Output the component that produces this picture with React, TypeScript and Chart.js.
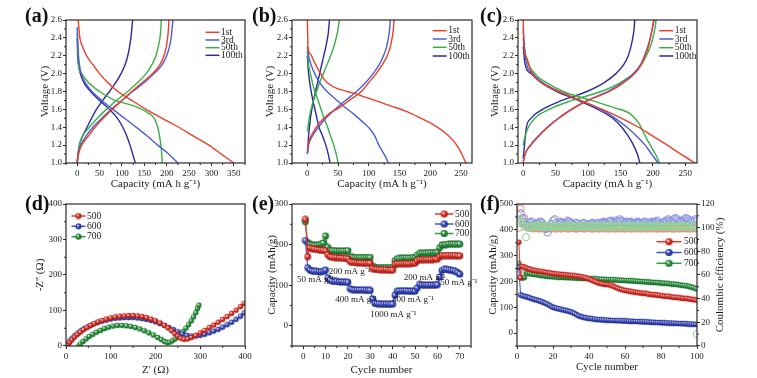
import React, { useEffect, useRef } from "react";
import { Chart, registerables } from "chart.js";
Chart.register(...registerables);

const FONT = "'Liberation Serif', 'Times New Roman', Times, serif";
const INK = "#1b1b1b";
const FRAME = "#2a2a2a";

type Pt = [number, number];

// ---------------- (a)(b)(c) voltage profiles ----------------
const cycleLabels = ["1st", "3rd", "50th", "100th"];
const cycleColors = ["#e8402b", "#4d5fcf", "#3bae47", "#2c2c92"];
const voltTicks = [1.0, 1.2, 1.4, 1.6, 1.8, 2.0, 2.2, 2.4, 2.6];
const capTicksA = [0, 50, 100, 150, 200, 250, 300, 350];
const capTicksBC = [0, 50, 100, 150, 200, 250];

const aDis1st: Pt[] = [[2, 2.6], [4, 2.5], [6, 2.4], [12, 2.3], [21, 2.2], [35, 2.1], [50, 2.0], [68, 1.9], [91, 1.8], [122, 1.7], [154, 1.6], [190, 1.5], [227, 1.4], [260, 1.3], [294, 1.2], [322, 1.1], [350, 1.0]];
const aChg1st: Pt[] = [[0, 1.0], [3, 1.1], [10, 1.2], [25, 1.3], [40, 1.4], [58, 1.5], [78, 1.6], [100, 1.7], [122, 1.8], [145, 1.9], [168, 2.0], [185, 2.1], [194, 2.2], [199, 2.3], [202, 2.4], [204, 2.5], [205, 2.6]];
const aDis3rd: Pt[] = [[0, 2.52], [1, 2.4], [2, 2.3], [3, 2.2], [5, 2.1], [9, 2.0], [18, 1.9], [33, 1.8], [55, 1.7], [80, 1.6], [106, 1.5], [132, 1.4], [157, 1.3], [180, 1.2], [200, 1.12], [213, 1.06], [225, 1.0]];
const aChg3rd: Pt[] = [[0, 1.0], [2, 1.1], [8, 1.2], [20, 1.3], [35, 1.4], [55, 1.5], [76, 1.6], [100, 1.7], [124, 1.8], [150, 1.9], [172, 2.0], [190, 2.1], [200, 2.2], [206, 2.3], [210, 2.4], [212, 2.5], [214, 2.6]];
const aDis50th: Pt[] = [[0, 2.45], [1, 2.3], [3, 2.1], [10, 2.0], [25, 1.9], [50, 1.8], [85, 1.7], [120, 1.65], [145, 1.6], [162, 1.55], [172, 1.5], [180, 1.4], [184, 1.3], [187, 1.2], [189, 1.1], [190, 1.0]];
const aChg50th: Pt[] = [[0, 1.0], [2, 1.1], [5, 1.2], [12, 1.3], [27, 1.4], [45, 1.5], [65, 1.6], [88, 1.7], [113, 1.8], [135, 1.9], [154, 2.0], [167, 2.1], [176, 2.2], [181, 2.3], [185, 2.4], [187, 2.5], [188, 2.6]];
const aDis100th: Pt[] = [[0, 2.4], [1, 2.2], [3, 2.1], [7, 2.0], [15, 1.9], [30, 1.8], [50, 1.7], [72, 1.6], [90, 1.5], [102, 1.4], [111, 1.3], [118, 1.2], [124, 1.1], [130, 1.0]];
const aChg100th: Pt[] = [[0, 1.0], [2, 1.1], [5, 1.2], [12, 1.3], [22, 1.4], [32, 1.5], [43, 1.6], [57, 1.7], [72, 1.8], [86, 1.9], [98, 2.0], [107, 2.1], [113, 2.2], [117, 2.3], [120, 2.4], [122, 2.5], [124, 2.6]];

const bDis1st: Pt[] = [[0, 2.6], [0.5, 2.45], [1, 2.3], [5, 2.22], [12, 2.12], [20, 2.02], [28, 1.93], [38, 1.87], [50, 1.83], [65, 1.8], [85, 1.76], [110, 1.7], [135, 1.64], [160, 1.58], [185, 1.5], [205, 1.43], [222, 1.35], [235, 1.27], [245, 1.18], [252, 1.09], [258, 1.0]];
const bChg1st: Pt[] = [[0, 1.15], [3, 1.25], [10, 1.35], [20, 1.45], [35, 1.55], [52, 1.62], [68, 1.7], [88, 1.8], [100, 1.9], [112, 2.0], [122, 2.1], [130, 2.2], [135, 2.3], [138, 2.4], [140, 2.5], [141, 2.6]];
const bDis3rd: Pt[] = [[0, 2.3], [2, 2.2], [6, 2.1], [12, 2.0], [20, 1.9], [32, 1.8], [45, 1.72], [60, 1.63], [75, 1.55], [90, 1.46], [102, 1.38], [110, 1.3], [115, 1.22], [122, 1.13], [128, 1.06], [132, 1.0]];
const bChg3rd: Pt[] = [[0, 1.1], [2, 1.2], [8, 1.3], [18, 1.4], [30, 1.5], [45, 1.6], [62, 1.7], [80, 1.8], [95, 1.9], [107, 2.0], [117, 2.1], [124, 2.2], [129, 2.3], [132, 2.4], [134, 2.5], [135, 2.6]];
const bDis50th: Pt[] = [[0, 2.25], [2, 2.1], [5, 2.0], [10, 1.85], [15, 1.75], [20, 1.65], [27, 1.5], [33, 1.4], [38, 1.3], [43, 1.2], [47, 1.1], [50, 1.0]];
const bChg50th: Pt[] = [[0, 1.35], [3, 1.5], [6, 1.6], [10, 1.7], [15, 1.8], [20, 1.9], [26, 2.0], [32, 2.1], [38, 2.2], [43, 2.3], [47, 2.4], [50, 2.5], [52, 2.6]];
const bDis100th: Pt[] = [[0, 2.2], [2, 2.0], [5, 1.85], [9, 1.7], [14, 1.55], [19, 1.4], [25, 1.3], [30, 1.2], [34, 1.1], [37, 1.0]];
const bChg100th: Pt[] = [[0, 1.1], [2, 1.3], [5, 1.5], [10, 1.7], [15, 1.85], [20, 2.0], [25, 2.15], [30, 2.3], [34, 2.45], [36, 2.6]];

const cDis1st: Pt[] = [[0, 2.6], [1, 2.3], [4, 2.2], [14, 2.0], [28, 1.9], [55, 1.8], [88, 1.7], [122, 1.6], [152, 1.5], [178, 1.4], [200, 1.3], [222, 1.2], [243, 1.1], [265, 1.0]];
const cChg1st: Pt[] = [[0, 1.0], [3, 1.1], [12, 1.2], [24, 1.3], [38, 1.4], [55, 1.5], [75, 1.6], [100, 1.7], [133, 1.8], [155, 1.9], [172, 2.0], [182, 2.1], [188, 2.2], [193, 2.3], [196, 2.4], [199, 2.5], [201, 2.6]];
const cDis3rd: Pt[] = [[0, 2.5], [3, 2.2], [15, 2.0], [30, 1.9], [55, 1.8], [88, 1.7], [120, 1.6], [142, 1.5], [160, 1.4], [175, 1.3], [188, 1.2], [198, 1.1], [208, 1.0]];
const cChg3rd: Pt[] = [[0, 1.02], [3, 1.1], [11, 1.2], [23, 1.3], [37, 1.4], [54, 1.5], [74, 1.6], [99, 1.7], [130, 1.8], [153, 1.9], [170, 2.0], [181, 2.1], [187, 2.2], [192, 2.3], [196, 2.4], [199, 2.5], [202, 2.6]];
const cDis50th: Pt[] = [[0, 2.4], [4, 2.2], [18, 2.0], [36, 1.9], [62, 1.8], [105, 1.7], [140, 1.62], [165, 1.55], [178, 1.45], [185, 1.35], [192, 1.25], [200, 1.15], [206, 1.07], [210, 1.0]];
const cChg50th: Pt[] = [[0, 1.2], [3, 1.3], [8, 1.4], [18, 1.5], [40, 1.6], [75, 1.7], [120, 1.8], [150, 1.9], [170, 2.0], [182, 2.1], [190, 2.2], [196, 2.3], [200, 2.4], [203, 2.5], [205, 2.6]];
const cDis100th: Pt[] = [[0, 2.3], [3, 2.1], [12, 2.0], [28, 1.9], [52, 1.8], [85, 1.7], [115, 1.6], [138, 1.5], [152, 1.4], [162, 1.3], [170, 1.2], [176, 1.1], [180, 1.0]];
const cChg100th: Pt[] = [[0, 1.05], [2, 1.2], [5, 1.4], [12, 1.5], [30, 1.6], [60, 1.7], [98, 1.8], [125, 1.9], [143, 2.0], [155, 2.1], [162, 2.2], [166, 2.3], [169, 2.4], [171, 2.5], [172, 2.6]];

// ---------------- (d) Nyquist ----------------
const sampleLabels = ["500", "600", "700"];
const zTicks = [0, 100, 200, 300, 400];
const nyq500: Pt[] = [[4, 3], [8, 10], [13, 17], [19, 25], [25, 32], [32, 39], [39, 46], [47, 52], [55, 58], [63, 63], [72, 68], [81, 72], [90, 76], [100, 79], [110, 82], [120, 84], [130, 85], [140, 86], [150, 86], [160, 85], [170, 83], [180, 80], [190, 76], [200, 71], [210, 65], [220, 58], [228, 51], [236, 43], [243, 35], [250, 28], [257, 22], [264, 19], [272, 20], [280, 24], [290, 30], [300, 37], [310, 44], [320, 52], [330, 59], [340, 67], [350, 75], [360, 83], [370, 92], [380, 101], [390, 111], [398, 120]];
const nyq600: Pt[] = [[2, 2], [5, 8], [9, 15], [14, 22], [20, 30], [27, 37], [34, 44], [42, 50], [51, 56], [60, 61], [70, 66], [80, 70], [90, 73], [100, 76], [110, 78], [120, 79], [130, 80], [140, 80], [150, 80], [160, 79], [170, 77], [180, 75], [190, 72], [200, 68], [210, 63], [220, 58], [230, 52], [240, 46], [250, 40], [260, 34], [270, 30], [280, 28], [290, 28], [300, 30], [310, 33], [320, 37], [330, 42], [340, 47], [350, 53], [360, 60], [370, 67], [380, 75], [390, 84], [398, 93]];
const nyq700: Pt[] = [[28, 0], [32, 6], [38, 13], [45, 20], [52, 27], [60, 33], [68, 39], [77, 44], [86, 49], [95, 53], [105, 56], [115, 58], [125, 58], [135, 57], [145, 55], [155, 52], [165, 48], [175, 43], [185, 37], [195, 31], [205, 24], [213, 18], [220, 13], [226, 10], [232, 11], [238, 15], [244, 20], [250, 26], [256, 33], [262, 41], [268, 50], [274, 60], [280, 71], [285, 82], [290, 94], [294, 106], [297, 115]];

// ---------------- (e) rate capability ----------------
const rateCycleTicks = [0, 10, 20, 30, 40, 50, 60, 70];
const rateCapTicks = [0, 100, 200, 300];
const rate500 = [262, 170, 192, 190, 189, 188, 187, 186, 186, 185, 175, 170, 169, 168, 168, 167, 167, 166, 166, 165, 158, 156, 156, 155, 155, 155, 154, 154, 154, 154, 141, 139, 139, 138, 138, 138, 138, 137, 137, 137, 151, 153, 153, 153, 153, 153, 153, 153, 154, 154, 160, 163, 163, 163, 163, 163, 163, 163, 164, 164, 170, 173, 173, 173, 173, 173, 173, 173, 172, 172];
const rate600 = [210, 143, 137, 135, 134, 134, 133, 133, 134, 137, 118, 112, 110, 109, 109, 108, 108, 108, 107, 107, 91, 89, 88, 88, 88, 88, 88, 87, 87, 87, 66, 55, 54, 54, 53, 53, 53, 53, 53, 53, 75, 85, 86, 86, 86, 86, 85, 85, 85, 85, 93, 102, 100, 100, 100, 100, 100, 100, 100, 101, 120, 136, 139, 139, 138, 137, 136, 134, 131, 127];
const rate700 = [256, 205, 201, 199, 198, 198, 199, 201, 204, 221, 193, 186, 185, 185, 184, 184, 184, 184, 184, 185, 170, 169, 168, 168, 168, 168, 168, 168, 168, 168, 146, 144, 143, 143, 143, 143, 143, 143, 143, 143, 160, 165, 166, 166, 167, 167, 167, 167, 168, 168, 174, 178, 179, 179, 179, 180, 180, 180, 180, 181, 192, 199, 200, 200, 201, 201, 201, 201, 201, 201];
const rateNotes = [
  { text: "50 mA g⁻¹", cycle: -2.8, cap: 113 },
  { text: "200 mA g⁻¹", cycle: 11.4, cap: 133 },
  { text: "400 mA g⁻¹", cycle: 14.3, cap: 65 },
  { text: "1000 mA g⁻¹", cycle: 30, cap: 27 },
  { text: "400 mA g⁻¹", cycle: 39.7, cap: 65 },
  { text: "200 mA g⁻¹", cycle: 44.9, cap: 119 },
  { text: "50 mA g⁻¹", cycle: 61.3, cap: 105 },
];

// ---------------- (f) cycling ----------------
const cycTicks = [0, 20, 40, 60, 80, 100];
const cycCapTicks = [0, 100, 200, 300, 400, 500];
const ceTicks = [0, 20, 40, 60, 80, 100, 120];
const cyc500 = [352, 215, 258, 256, 253, 250, 248, 246, 244, 242, 241, 240, 239, 238, 237, 235, 234, 233, 232, 231, 230, 229, 228, 228, 227, 226, 226, 225, 224, 224, 223, 222, 221, 220, 219, 218, 216, 214, 212, 210, 207, 204, 201, 198, 195, 193, 191, 190, 189, 188, 187, 186, 183, 180, 177, 174, 171, 169, 167, 165, 164, 163, 162, 160, 159, 158, 157, 156, 155, 154, 155, 153, 151, 150, 149, 148, 149, 147, 146, 145, 144, 143, 142, 143, 141, 140, 139, 138, 139, 137, 136, 135, 134, 135, 133, 132, 131, 130, 129, 127];
const cyc600 = [255, 148, 145, 143, 141, 139, 137, 134, 132, 130, 128, 126, 123, 121, 118, 115, 112, 108, 104, 100, 98, 96, 94, 93, 91, 89, 88, 86, 84, 82, 79, 76, 72, 68, 65, 63, 61, 59, 58, 57, 56, 55, 54, 53, 52, 52, 51, 51, 50, 50, 50, 49, 49, 49, 48, 48, 48, 48, 47, 47, 47, 46, 46, 46, 45, 45, 45, 44, 44, 44, 43, 43, 43, 42, 42, 42, 41, 41, 41, 40, 40, 40, 39, 39, 39, 38, 38, 38, 37, 37, 37, 36, 36, 36, 35, 35, 35, 34, 34, 34];
const cyc700 = [270, 215, 213, 215, 236, 232, 230, 229, 228, 227, 226, 225, 224, 223, 222, 221, 220, 219, 219, 218, 218, 217, 217, 216, 216, 216, 215, 215, 215, 214, 214, 214, 213, 213, 213, 212, 212, 212, 211, 211, 211, 210, 210, 210, 209, 209, 209, 208, 208, 208, 207, 207, 207, 206, 206, 205, 205, 205, 204, 204, 203, 203, 203, 202, 202, 201, 201, 200, 200, 199, 199, 198, 198, 197, 197, 196, 196, 195, 195, 194, 194, 193, 193, 192, 191, 190, 190, 189, 188, 187, 186, 185, 184, 183, 182, 180, 178, 176, 174, 171];
const ce500 = [100, 116, 123, 108, 103, 101, 100, 100, 99.5, 100, 100, 99.5, 99.5, 100, 100, 99.5, 99.5, 100, 99.5, 100, 99.5, 99.5, 100, 99.5, 99.5, 100, 100, 99.5, 99.5, 100, 100, 99.5, 99.5, 99.5, 100, 100, 99.5, 99.5, 100, 100, 99.5, 99.5, 99.5, 100, 99.5, 99.5, 100, 99.5, 100, 99.5, 99.5, 99.5, 100, 99.5, 99.5, 100, 99.5, 100, 99.5, 99.5, 99.5, 100, 99.5, 99.5, 100, 99.5, 100, 99.5, 99.5, 99.5, 100, 99.5, 99.5, 100, 99.5, 100, 99.5, 99.5, 99.5, 100, 99.5, 99.5, 100, 99.5, 100, 99.5, 99.5, 99.5, 100, 99.5, 99.5, 100, 99.5, 100, 99.5, 99.5, 99.5, 100, 99.5, 99.5];
const ce600 = [104, 112, 108, 105, 103, 102, 104, 105, 103, 102, 104, 103, 105, 104, 102, 99, 96, 100, 103, 106, 107, 104, 103, 105, 104, 103, 104, 106, 105, 104, 103, 102, 104, 103, 102, 103, 104, 102, 103, 102, 103, 104, 103, 102, 104, 103, 104, 105, 104, 103, 105, 106, 105, 104, 106, 105, 107, 106, 105, 104, 105, 104, 105, 104, 103, 104, 105, 104, 103, 104, 105, 103, 104, 104, 105, 104, 105, 106, 104, 103, 104, 105, 106, 107, 106, 105, 107, 108, 107, 106, 105, 106, 107, 108, 107, 106, 105, 106, 107, 106];
const ce700 = [104, 107, 104, 101, 92, 100, 101, 101, 101, 101, 101.5, 101, 100.5, 101, 101, 101.5, 101, 101, 100.5, 101, 101, 101.5, 101, 101, 101, 100.5, 101, 101, 101.5, 101, 101, 101, 100.5, 101, 101, 101.5, 101, 101, 101, 100.5, 101, 101, 101.5, 101, 101, 101, 100.5, 101, 101, 101, 101.5, 101, 101, 100.5, 101, 101, 101, 101.5, 101, 101, 100.5, 101, 101, 101, 101.5, 101, 101, 100.5, 101, 101, 101, 101.5, 101, 101, 100.5, 101, 101, 101, 101.5, 101, 101, 100.5, 101, 101, 101, 101.5, 101, 101, 100.5, 101, 101, 101, 101.5, 101, 101, 100.5, 101, 101, 101, 10];

// ---------------- helpers ----------------
const sampleColors = ["#e8352b", "#3f52c8", "#2f9e3f"];
const sampleDark = ["#9c1a12", "#1c2780", "#16602a"];
const ceColors = ["#ef8e84", "#8d94e2", "#92d394"];
const ceOrder = [3, 2, 1];

const spriteCache: Record<string, HTMLCanvasElement> = {};
function sphere(i: number, r: number): HTMLCanvasElement {
  const key = i + "_" + r;
  if (spriteCache[key]) return spriteCache[key];
  const s = Math.ceil(r * 2 + 1);
  const c = document.createElement("canvas");
  c.width = s;
  c.height = s;
  const g = c.getContext("2d")!;
  const cx = s / 2;
  const grad = g.createRadialGradient(cx - r * 0.35, cx - r * 0.35, r * 0.1, cx, cx, r);
  grad.addColorStop(0, "#ffffff");
  grad.addColorStop(0.4, sampleColors[i]);
  grad.addColorStop(1, sampleDark[i]);
  g.fillStyle = grad;
  g.beginPath();
  g.arc(cx, cx, r, 0, Math.PI * 2);
  g.fill();
  spriteCache[key] = c;
  return c;
}

const toXY = (pts: Pt[]) => pts.map(([x, y]) => ({ x, y }));
const byCycle = (vals: number[]) => vals.map((y, i) => ({ x: i + 1, y }));

type Rect = { l: number; t: number; r: number; b: number };
type LegendSpec = { x0: number; x1: number; textX: number; rows: number[]; fs: number; items: { label: string; color: string; sprite?: () => HTMLCanvasElement }[] };
type Spec = {
  left: number; top: number; width: number; height: number;
  area: Rect; yTitleX: number; xTitleY: number; rightTitleX?: number; rightTitle?: string;
  x: { min: number; max: number; ticks: number[]; fmt: (v: number) => string; title: string };
  y: { min: number; max: number; ticks: number[]; fmt: (v: number) => string; title: string };
  y2?: { min: number; max: number; ticks: number[]; fmt: (v: number) => string };
  datasets: () => any[];
  legend: LegendSpec;
  notes?: { text: string; cycle: number; cap: number }[];
};

function axis(pos: string, a: { min: number; max: number; ticks: number[]; fmt: (v: number) => string; title?: string }, size: number) {
  const horizontal = pos === "bottom";
  return {
    type: "linear",
    position: pos,
    min: a.min,
    max: a.max,
    afterBuildTicks: (s: any) => { s.ticks = a.ticks.map((v) => ({ value: v })); },
    afterFit: (s: any) => { if (horizontal) s.height = size; else s.width = size; },
    ticks: { autoSkip: false, maxRotation: 0, minRotation: 0, padding: horizontal ? 2 : 1, color: INK, font: { family: FONT, size: 9 }, callback: (v: any) => a.fmt(Number(v)) },
    grid: { display: true, drawOnChartArea: false, drawTicks: true, tickLength: 3, color: FRAME, lineWidth: 1 },
    border: { display: false },
    title: { display: !!a.title, text: a.title || "", color: INK, font: { family: FONT, size: 11 }, padding: 0 },
  };
}

function buildConfig(sp: Spec): any {
  const lh = 11 * 1.2;
  const padLeft = sp.yTitleX - sp.left - lh / 2;
  const yW = sp.area.l - sp.left - padLeft;
  const padTop = sp.area.t - sp.top;
  const padBottom = sp.top + sp.height - sp.xTitleY - lh / 2;
  const xH = sp.top + sp.height - padBottom - sp.area.b;
  const padRight = sp.y2 ? 4 : sp.left + sp.width - sp.area.r;
  const rW = sp.y2 ? sp.left + sp.width - 4 - sp.area.r : 0;
  const scales: any = {
    x: axis("bottom", sp.x, xH),
    y: axis("left", sp.y, yW),
  };
  if (sp.y2) scales.y2 = axis("right", sp.y2, rW);

  const decor = {
    id: "decor",
    afterDatasetsDraw(chart: any) {
      const { ctx, chartArea } = chart;
      const { left, top, right, bottom } = chartArea;
      ctx.save();
      ctx.strokeStyle = FRAME;
      ctx.lineWidth = 1;
      Object.values(chart.scales).forEach((s: any) => {
        const tv = s.ticks.map((t: any) => t.value);
        if (tv.length < 2) return;
        const step = tv[1] - tv[0];
        for (let v = tv[0] - step / 2; v <= s.max; v += step) {
          if (v < s.min) continue;
          const p = s.getPixelForValue(v);
          ctx.beginPath();
          if (s.position === "bottom") { ctx.moveTo(p, bottom); ctx.lineTo(p, bottom + 2); }
          else if (s.position === "left") { ctx.moveTo(left, p); ctx.lineTo(left - 2, p); }
          else { ctx.moveTo(right, p); ctx.lineTo(right + 2, p); }
          ctx.stroke();
        }
      });
      ctx.lineWidth = 1.2;
      ctx.strokeRect(left, top, right - left, bottom - top);
      if (sp.notes) {
        ctx.fillStyle = INK;
        ctx.font = `9px ${FONT}`;
        ctx.textBaseline = "middle";
        ctx.textAlign = "left";
        sp.notes.forEach((n) => {
          ctx.fillText(n.text, chart.scales.x.getPixelForValue(n.cycle), chart.scales.y.getPixelForValue(n.cap));
        });
      }
      const L = sp.legend;
      L.items.forEach((it, i) => {
        const y = L.rows[i] - sp.top;
        const x0 = L.x0 - sp.left;
        const x1 = L.x1 - sp.left;
        ctx.strokeStyle = it.color;
        ctx.lineWidth = 1.5;
        ctx.beginPath();
        ctx.moveTo(x0, y);
        ctx.lineTo(x1, y);
        ctx.stroke();
        if (it.sprite) {
          const im = it.sprite();
          ctx.drawImage(im, (x0 + x1) / 2 - im.width / 2, y - im.height / 2);
        }
        ctx.fillStyle = INK;
        ctx.font = `${L.fs}px ${FONT}`;
        ctx.textBaseline = "middle";
        ctx.textAlign = "left";
        ctx.fillText(it.label, L.textX - sp.left, y);
      });
      if (sp.rightTitle && sp.rightTitleX) {
        ctx.save();
        ctx.translate(sp.rightTitleX - sp.left, (top + bottom) / 2);
        ctx.rotate(-Math.PI / 2);
        ctx.fillStyle = INK;
        ctx.font = `11px ${FONT}`;
        ctx.textAlign = "center";
        ctx.textBaseline = "middle";
        ctx.fillText(sp.rightTitle, 0, 0);
        ctx.restore();
      }
      ctx.restore();
    },
  };

  return {
    type: "scatter",
    data: { datasets: sp.datasets() },
    options: {
      responsive: false,
      animation: false,
      devicePixelRatio: 1,
      events: [],
      layout: { autoPadding: false, padding: { left: padLeft, top: padTop, right: padRight, bottom: padBottom } },
      scales,
      plugins: { legend: { display: false }, tooltip: { enabled: false } },
    },
    plugins: [decor],
  };
}

const f1 = (v: number) => v.toFixed(1);
const f0 = (v: number) => String(v);

function vcDatasets(curves: Pt[][][]) {
  const out: any[] = [];
  curves.forEach((pair, i) => {
    pair.forEach((pts) => {
      out.push({ data: toXY(pts), showLine: true, borderColor: cycleColors[i], borderWidth: 1.4, pointRadius: 0, cubicInterpolationMode: "monotone" });
    });
  });
  return out;
}
const vcLegend = (x0: number, rows: number[]): LegendSpec => ({
  x0, x1: x0 + 14, textX: x0 + 15.5, rows, fs: 9.5,
  items: cycleLabels.map((label, i) => ({ label, color: cycleColors[i] })),
});
const capTitle = "Capacity (mA h g⁻¹)";

const specs: Spec[] = [
  {
    left: 0, top: 0, width: 262, height: 195, area: { l: 66, t: 20, r: 245, b: 163 }, yTitleX: 45, xTitleY: 184,
    x: { min: -25, max: 375, ticks: capTicksA, fmt: f0, title: capTitle },
    y: { min: 1.0, max: 2.6, ticks: voltTicks, fmt: f1, title: "Voltage (V)" },
    datasets: () => vcDatasets([[aDis1st, aChg1st], [aDis3rd, aChg3rd], [aDis50th, aChg50th], [aDis100th, aChg100th]]),
    legend: vcLegend(205.5, [32.3, 40, 47.7, 55.3]),
  },
  {
    left: 250, top: 0, width: 235, height: 195, area: { l: 292, t: 20, r: 472, b: 163 }, yTitleX: 270, xTitleY: 184,
    x: { min: -25, max: 268, ticks: capTicksBC, fmt: f0, title: capTitle },
    y: { min: 1.0, max: 2.6, ticks: voltTicks, fmt: f1, title: "Voltage (V)" },
    datasets: () => vcDatasets([[bDis1st, bChg1st], [bDis3rd, bChg3rd], [bDis50th, bChg50th], [bDis100th, bChg100th]]),
    legend: vcLegend(432.7, [30.7, 39, 47.3, 56]),
  },
  {
    left: 480, top: 0, width: 277, height: 195, area: { l: 518, t: 20, r: 697, b: 163 }, yTitleX: 495, xTitleY: 184,
    x: { min: -8, max: 268, ticks: capTicksBC, fmt: f0, title: capTitle },
    y: { min: 1.0, max: 2.6, ticks: voltTicks, fmt: f1, title: "Voltage (V)" },
    datasets: () => vcDatasets([[cDis1st, cChg1st], [cDis3rd, cChg3rd], [cDis50th, cChg50th], [cDis100th, cChg100th]]),
    legend: vcLegend(659.3, [30.7, 39, 47.7, 56]),
  },
  {
    left: 0, top: 188, width: 262, height: 190, area: { l: 66, t: 204, r: 245, b: 346 }, yTitleX: 40, xTitleY: 370,
    x: { min: 0, max: 400, ticks: zTicks, fmt: f0, title: "Z' (Ω)" },
    y: { min: 0, max: 400, ticks: zTicks, fmt: f0, title: "-Z'' (Ω)" },
    datasets: () => [nyq500, nyq600, nyq700].map((pts, i) => ({
      data: toXY(pts), showLine: true, borderColor: sampleColors[i], borderWidth: 1, pointStyle: sphere(i, 2.7), pointRadius: 3,
    })),
    legend: { x0: 71.5, x1: 85.5, textX: 87, rows: [216, 226.3, 236.7], fs: 9.5, items: sampleLabels.map((label, i) => ({ label, color: sampleColors[i], sprite: () => sphere(i, 3) })) },
  },
  {
    left: 250, top: 188, width: 235, height: 190, area: { l: 292, t: 204, r: 471, b: 346 }, yTitleX: 272, xTitleY: 370,
    x: { min: -5, max: 75, ticks: rateCycleTicks, fmt: f0, title: "Cycle number" },
    y: { min: -50, max: 300, ticks: rateCapTicks, fmt: f0, title: "Capacity (mAh/g)" },
    datasets: () => [rate500, rate600, rate700].map((vals, i) => ({
      data: byCycle(vals), showLine: true, borderColor: sampleColors[i], borderWidth: 1.2, pointStyle: sphere(i, 3.4), pointRadius: 3.5,
    })),
    legend: { x0: 435, x1: 453.5, textX: 455, rows: [214, 224, 233.5], fs: 9.5, items: sampleLabels.map((label, i) => ({ label, color: sampleColors[i], sprite: () => sphere(i, 3.6) })) },
    notes: rateNotes,
  },
  {
    left: 480, top: 188, width: 277, height: 190, area: { l: 517, t: 204, r: 697, b: 346 }, yTitleX: 493, xTitleY: 367,
    rightTitleX: 720, rightTitle: "Coulombic efficiency (%)",
    x: { min: 0, max: 100, ticks: cycTicks, fmt: f0, title: "Cycle number" },
    y: { min: -50, max: 500, ticks: cycCapTicks, fmt: f0, title: "Capacity (mAh/g)" },
    y2: { min: 0, max: 120, ticks: ceTicks, fmt: f0 },
    datasets: () => [
      ...[cyc500, cyc600, cyc700].map((vals, i) => ({
        data: byCycle(vals), showLine: true, borderColor: sampleColors[i], borderWidth: 1, pointStyle: sphere(i, 2.8), pointRadius: 3, yAxisID: "y", order: 0,
      })),
      ...[ce500, ce600, ce700].map((vals, i) => ({
        data: byCycle(vals), showLine: false, borderColor: ceColors[i], backgroundColor: "rgba(255,255,255,0)", borderWidth: 1.1, pointStyle: "circle", pointRadius: 3.6, yAxisID: "y2", order: ceOrder[i],
      })),
    ],
    legend: { x0: 656.5, x1: 681.5, textX: 684, rows: [241.7, 252.5, 263.3], fs: 9.5, items: sampleLabels.map((label, i) => ({ label, color: sampleColors[i], sprite: () => sphere(i, 3.6) })) },
  },
];

const panelLabels = [
  { t: "(a)", x: 25, y: 5 },
  { t: "(b)", x: 252, y: 5 },
  { t: "(c)", x: 480, y: 5 },
  { t: "(d)", x: 25, y: 193 },
  { t: "(e)", x: 252, y: 193 },
  { t: "(f)", x: 480, y: 193 },
];

function Panel({ sp }: { sp: Spec }) {
  const ref = useRef<HTMLCanvasElement>(null);
  useEffect(() => {
    const chart = new Chart(ref.current!, buildConfig(sp));
    return () => chart.destroy();
  }, []);
  return (
    <canvas
      ref={ref}
      width={sp.width}
      height={sp.height}
      style={{ position: "absolute", left: sp.left, top: sp.top, width: sp.width, height: sp.height }}
    />
  );
}

export default function App() {
  return (
    <div style={{ position: "absolute", left: 0, top: 0, width: 757, height: 378, background: "#fff", overflow: "hidden" }}>
      {specs.map((sp, i) => (
        <Panel key={i} sp={sp} />
      ))}
      {panelLabels.map((p) => (
        <div key={p.t} style={{ position: "absolute", left: p.x, top: p.y, font: `bold 20px ${FONT}`, lineHeight: "20px", color: "#111" }}>
          {p.t}
        </div>
      ))}
    </div>
  );
}
